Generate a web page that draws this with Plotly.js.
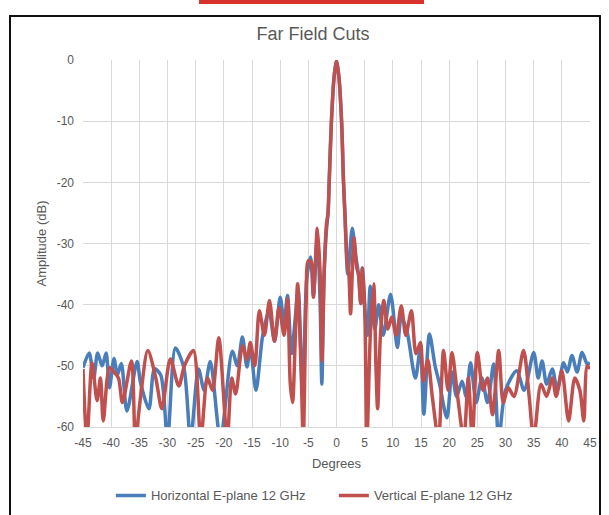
<!DOCTYPE html>
<html>
<head>
<meta charset="utf-8">
<script src="https://cdn.plot.ly/plotly-3.0.1.min.js"></script>
<style>
  html, body { margin: 0; padding: 0; background: #ffffff; }
  #wrap { position: relative; width: 609px; height: 515px; overflow: hidden; }
  #chart { width: 609px; height: 515px; }
  #frame { position: absolute; left: 9px; top: 15px; width: 592px; height: 510px; border: 2px solid #111; pointer-events: none; box-sizing: border-box; }
  #redbar { position: absolute; left: 199px; top: 0px; width: 225px; height: 4px; background: #d8322c; pointer-events: none; }
</style>
</head>
<body>
<div id="wrap">
  <div id="chart"></div>
  <div id="frame"></div>
  <div id="redbar"></div>
</div>
<script>
// Horizontal E-plane 12 GHz (blue)
const hAngles = [-45.0,-43.9,-43.1,-42.4,-41.6,-40.9,-40.3,-39.5,-38.9,-38.2,-37.2,-35.4,-34.8,-33.3,-32.3,-31.2,-30.0,-28.6,-27.1,-25.9,-24.5,-23.5,-22.4,-20.6,-18.5,-17.6,-16.7,-15.9,-15.3,-14.3,-13.1,-12.0,-11.0,-10.0,-9.3,-8.7,-8.0,-7.3,-6.8,-6.0,-5.3,-4.6,-4.1,-3.4,-2.9,-2.6,-2.2,-1.8,-1.5,-1.3,-0.9,-0.45,0,0.45,0.9,1.25,1.5,2.0,2.8,3.4,3.9,4.3,4.6,5.1,5.5,6.0,6.8,7.5,8.3,9.6,10.8,11.5,12.5,14.0,14.9,15.5,16.5,17.5,18.3,19.6,20.5,21.3,22.3,23.0,23.8,24.8,25.8,26.8,27.9,28.8,30.0,32.0,33.3,35.0,35.8,36.5,37.3,38.3,39.2,40.3,41.0,41.8,42.7,43.6,44.5,45.0];
const hAmp    = [-50.3,-47.9,-52.0,-47.9,-50.0,-47.9,-53.6,-48.8,-51.5,-49.6,-57.4,-49.3,-52.7,-57.0,-50.5,-51.5,-62.0,-47.1,-50.3,-62.0,-50.5,-54.0,-49.3,-62.0,-47.6,-50.0,-45.3,-50.2,-47.0,-54.0,-45.0,-41.0,-46.0,-38.8,-43.0,-38.5,-48.0,-42.0,-37.5,-55.0,-36.0,-32.2,-38.5,-29.0,-40.0,-53.0,-35.0,-28.0,-25.0,-20.0,-10.0,-3.0,0.0,-3.0,-10.0,-20.0,-25.0,-35.0,-27.5,-32.0,-35.0,-39.8,-34.0,-42.0,-45.0,-37.0,-44.0,-40.0,-45.0,-38.3,-47.0,-42.0,-44.3,-52.0,-47.0,-57.9,-44.8,-50.0,-53.0,-58.5,-51.0,-55.0,-52.5,-55.0,-49.5,-56.0,-52.0,-56.0,-49.7,-62.0,-54.0,-50.8,-54.0,-47.8,-52.0,-49.2,-53.0,-50.5,-54.0,-49.5,-51.0,-48.3,-51.0,-47.8,-49.7,-49.5];

// Vertical E-plane 12 GHz (red)
const vAngles = [-45.0,-44.3,-43.4,-42.5,-41.9,-41.4,-40.3,-39.5,-38.7,-38.0,-36.4,-35.7,-34.8,-33.5,-32.1,-31.0,-29.5,-28.0,-27.0,-25.4,-24.1,-22.9,-22.0,-20.9,-19.4,-18.6,-17.9,-16.7,-15.9,-15.3,-14.5,-13.7,-12.8,-11.9,-11.0,-10.2,-9.3,-8.7,-8.2,-7.8,-7.3,-6.9,-6.3,-5.9,-5.4,-5.0,-4.5,-4.1,-3.4,-2.9,-2.6,-2.2,-1.8,-1.5,-1.3,-0.9,-0.45,0,0.45,0.9,1.25,1.5,1.9,2.2,2.5,3.1,3.6,3.9,4.3,4.6,5.0,5.4,6.0,6.6,7.0,7.3,7.8,8.4,9.1,9.8,10.6,11.5,12.3,13.3,14.1,14.9,15.4,16.2,17.0,18.1,19.0,19.8,20.5,21.5,22.6,23.4,24.1,25.0,26.0,26.8,27.7,28.8,29.6,30.5,31.5,33.2,34.2,35.0,36.3,37.3,38.3,39.0,40.0,41.2,42.3,43.2,43.9,44.5,45.0];
const vAmp    = [-50.5,-62.0,-49.5,-55.7,-52.0,-59.0,-50.3,-51.0,-52.0,-56.0,-49.2,-62.0,-55.2,-47.5,-51.9,-57.0,-48.9,-53.3,-50.0,-47.5,-62.0,-52.0,-54.0,-45.4,-62.0,-52.0,-54.6,-46.7,-49.0,-46.2,-50.0,-41.0,-45.0,-39.3,-46.0,-40.5,-45.0,-39.0,-53.0,-56.0,-45.0,-36.6,-50.0,-62.0,-40.0,-32.8,-33.0,-38.8,-27.5,-35.0,-49.2,-35.0,-27.0,-25.0,-20.0,-10.0,-3.0,0.0,-3.0,-10.0,-20.0,-25.5,-33.0,-35.0,-41.5,-29.0,-34.0,-35.0,-39.8,-34.0,-40.0,-62.0,-45.0,-36.6,-50.0,-57.0,-45.0,-39.3,-44.0,-42.0,-45.0,-40.2,-45.0,-41.0,-48.0,-46.2,-52.5,-49.0,-55.0,-62.0,-47.5,-54.0,-47.8,-55.0,-62.0,-52.0,-62.0,-47.8,-54.0,-52.0,-58.0,-47.5,-56.0,-53.6,-55.0,-47.5,-55.0,-62.0,-53.0,-55.0,-52.0,-55.0,-50.8,-59.0,-52.0,-54.0,-59.0,-50.0,-50.5];

const seriesNames = ['Horizontal E-plane 12 GHz', 'Vertical E-plane 12 GHz'];
const xTicks = [-45,-40,-35,-30,-25,-20,-15,-10,-5,0,5,10,15,20,25,30,35,40,45];
const yTicks = [0,-10,-20,-30,-40,-50,-60];

const txt = '#595959';
const traces = [
  { x: hAngles, y: hAmp, name: seriesNames[0], mode: 'lines',
    line: { color: '#4a7ebb', width: 3.5, shape: 'spline', smoothing: 0.8 } },
  { x: vAngles, y: vAmp, name: seriesNames[1], mode: 'lines',
    line: { color: '#c0504d', width: 3.5, shape: 'spline', smoothing: 0.8 } }
];

const layout = {
  width: 609, height: 515,
  paper_bgcolor: '#ffffff', plot_bgcolor: '#ffffff',
  margin: { l: 83, r: 19, t: 60, b: 88, pad: 0, autoexpand: false },
  font: { family: 'Liberation Sans, Arial, sans-serif', color: txt, size: 12 },
  title: { text: 'Far Field Cuts', x: 0.514, xanchor: 'center', y: 0.934, yanchor: 'middle', yref: 'container',
           font: { size: 18, color: txt } },
  xaxis: {
    range: [-45, 45], tickvals: xTicks, ticktext: xTicks.map(String),
    showgrid: true, gridcolor: '#d9d9d9', gridwidth: 1, zeroline: false,
    showline: true, linecolor: '#d9d9d9', linewidth: 1,
    ticks: '', ticklabelstandoff: 5, tickfont: { size: 12, color: txt },
    title: { text: 'Degrees', font: { size: 13, color: txt }, standoff: 9 }
  },
  yaxis: {
    range: [-60, 0], tickvals: yTicks, ticktext: yTicks.map(String),
    showgrid: true, gridcolor: '#d9d9d9', gridwidth: 1, zeroline: false,
    showline: false, ticks: '', ticklabelstandoff: 8, tickfont: { size: 12, color: txt },
    title: { text: 'Amplitude (dB)', font: { size: 13, color: txt }, standoff: 7 }
  },
  showlegend: true,
  legend: { orientation: 'h', x: 0.055, xanchor: 'left', xref: 'paper', y: 0.038, yanchor: 'middle', yref: 'container',
            font: { size: 13, color: txt }, bgcolor: 'rgba(0,0,0,0)', entrywidth: 178, tracegroupgap: 0 }
};

Plotly.newPlot('chart', traces, layout, { displayModeBar: false, staticPlot: true });
</script>
</body>
</html>
